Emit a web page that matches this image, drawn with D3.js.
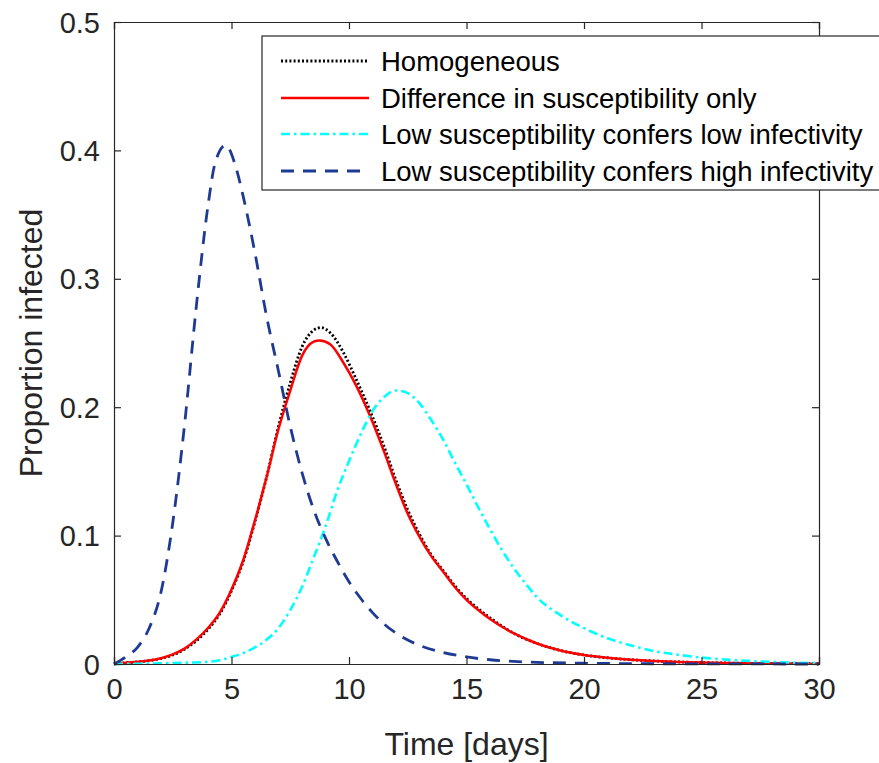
<!DOCTYPE html>
<html><head><meta charset="utf-8">
<script src="https://cdn.jsdelivr.net/npm/d3@7"></script>
<style>body{margin:0;background:#fff;overflow:hidden;} text{font-family:"Liberation Sans",Arial,Helvetica,sans-serif;}</style>
</head><body><svg id="c" width="879" height="763"></svg>
<script>
const seriesNames = ["Homogeneous","Difference in susceptibility only","Low susceptibility confers low infectivity","Low susceptibility confers high infectivity"];
const xTicks = [0,5,10,15,20,25,30];
const yTicks = [0,0.1,0.2,0.3,0.4,0.5];
const yTickLabels = ["0","0.1","0.2","0.3","0.4","0.5"];

const homT = [0,0.5,1,1.5,2,2.5,3,3.5,4,4.5,5,5.5,6,6.5,7,7.5,8,8.5,8.8,9.2,9.75,10.3,10.9,11.5,12,12.5,13,13.5,14,14.5,15,15.5,16,17,18,19,20,21,22,23,24,25,26,28,30];
const homV = [0,0.001,0.0016,0.0026,0.0043,0.007,0.0115,0.018,0.027,0.039,0.057,0.08,0.111,0.146,0.185,0.219,0.247,0.26,0.262,0.258,0.243,0.222,0.197,0.169,0.143,0.12,0.101,0.085,0.073,0.061,0.051,0.043,0.036,0.024,0.016,0.0105,0.007,0.0048,0.0033,0.0023,0.0016,0.0011,0.0008,0.0004,0.0002];

const redT = [0,0.5,1,1.5,2,2.5,3,3.5,4,4.5,5,5.5,6,6.5,7,7.5,8,8.5,8.75,9.2,9.75,10.3,10.9,11.5,12,12.5,13,13.5,14,14.5,15,15.5,16,17,18,19,20,21,22,23,24,25,26,28,30];
const redV = [0,0.001,0.0017,0.0027,0.0045,0.0075,0.012,0.019,0.028,0.04,0.058,0.081,0.112,0.146,0.183,0.213,0.24,0.251,0.252,0.249,0.235,0.217,0.193,0.165,0.14,0.117,0.099,0.084,0.072,0.06,0.05,0.042,0.035,0.024,0.016,0.0105,0.007,0.0048,0.0033,0.0023,0.0016,0.0011,0.0008,0.0004,0.0002];

const cyanT = [0,1,2,3,4,4.5,5,5.5,6,6.5,7,7.5,8,8.5,9,9.5,10,10.5,11,11.5,12,12.5,13,13.5,14,14.5,15,15.5,16,16.5,17,17.5,18,19,20,21,22,23,24,25,26,27,28,29,30];
const cyanV = [0,0.0002,0.0005,0.001,0.0017,0.003,0.0055,0.0085,0.013,0.019,0.028,0.042,0.06,0.083,0.107,0.135,0.158,0.179,0.197,0.208,0.213,0.211,0.203,0.19,0.175,0.157,0.14,0.122,0.105,0.089,0.075,0.063,0.052,0.038,0.028,0.02,0.0145,0.01,0.0072,0.005,0.0035,0.0024,0.0016,0.001,0.0007];

const blueT = [0,0.5,1,1.5,2,2.5,3,3.5,4,4.3,4.75,5.2,5.5,6,6.5,7,7.5,8,8.5,9,9.5,10,10.5,11,11.5,12,13,14,15,16,17,18,20,22,25,30];
const blueV = [0,0.0055,0.013,0.028,0.056,0.11,0.186,0.278,0.357,0.39,0.404,0.386,0.364,0.32,0.27,0.228,0.185,0.149,0.12,0.098,0.08,0.064,0.051,0.04,0.031,0.024,0.0145,0.009,0.0055,0.0033,0.002,0.0013,0.0006,0.0003,0.0001,0];

const svg = d3.select("#c");
const L=114, R=819, T=22, B=664;
const x = d3.scaleLinear().domain([0,30]).range([L,R]);
const y = d3.scaleLinear().domain([0,0.5]).range([B,T]);
const axisColor = "#262626";

const styles = [
  {t:homT, v:homV, color:"#000000", dash:"2,2.2", w:2.8},
  {t:redT, v:redV, color:"#ff0000", dash:null, w:2.5},
  {t:cyanT, v:cyanV, color:"#00ffff", dash:"9,4,2.5,4", w:2.6},
  {t:blueT, v:blueV, color:"#1f3a93", dash:"13,9", w:2.8}
];

const line = d3.line().x(d=>x(d[0])).y(d=>y(d[1])).curve(d3.curveMonotoneX);
const plot = svg.append("g");
styles.forEach(s=>{
  const data = s.t.map((t,k)=>[t,s.v[k]]);
  plot.append("path").attr("d",line(data)).attr("fill","none")
    .attr("stroke",s.color).attr("stroke-width",s.w)
    .attr("stroke-dasharray",s.dash).attr("stroke-linejoin","round");
});

const gx = svg.append("g").attr("transform",`translate(0,${B})`)
  .call(d3.axisBottom(x).tickValues(xTicks).tickSize(-7).tickPadding(14).tickFormat(d3.format("d")));
const gxt = svg.append("g").attr("transform",`translate(0,${T})`)
  .call(d3.axisTop(x).tickValues(xTicks).tickSize(-7).tickFormat(""));
const gy = svg.append("g").attr("transform",`translate(${L},0)`)
  .call(d3.axisLeft(y).tickValues(yTicks).tickSize(-7).tickPadding(14).tickFormat((d,i)=>yTickLabels[i]));
const gyr = svg.append("g").attr("transform",`translate(${R},0)`)
  .call(d3.axisRight(y).tickValues(yTicks).tickSize(-7).tickFormat(""));
[gx,gxt,gy,gyr].forEach(g=>{
  g.selectAll("path").attr("stroke",axisColor).attr("stroke-width",1.2);
  g.selectAll("line").attr("stroke",axisColor).attr("stroke-width",1.2);
  g.selectAll("text").attr("fill",axisColor).style("font-size","29px")
   .style("font-family","'Liberation Sans',Arial,sans-serif");
});
gx.selectAll("text").attr("dy","0.71em");
gy.selectAll("text").attr("dy","0.35em");

svg.append("text").attr("x",(L+R)/2).attr("y",755).attr("text-anchor","middle")
  .attr("fill",axisColor).style("font-size","32px").text("Time [days]");
svg.append("text").attr("transform",`translate(42,${(T+B)/2}) rotate(-90)`).attr("text-anchor","middle")
  .attr("fill",axisColor).style("font-size","32px").text("Proportion infected");

const lg = svg.append("g");
lg.append("rect").attr("x",262).attr("y",36).attr("width",640).attr("height",154)
  .attr("fill","#fff").attr("stroke",axisColor).attr("stroke-width",1.2);
const rowsY = [61,98,134,171];
styles.forEach((s,i)=>{
  lg.append("line").attr("x1",281).attr("x2",369).attr("y1",rowsY[i]).attr("y2",rowsY[i])
    .attr("stroke",s.color).attr("stroke-width",s.w).attr("stroke-dasharray",s.dash);
  lg.append("text").attr("x",381).attr("y",rowsY[i]).attr("dy","0.35em")
    .attr("fill","#000").style("font-size","27.5px").text(seriesNames[i]);
});
</script></body></html>
